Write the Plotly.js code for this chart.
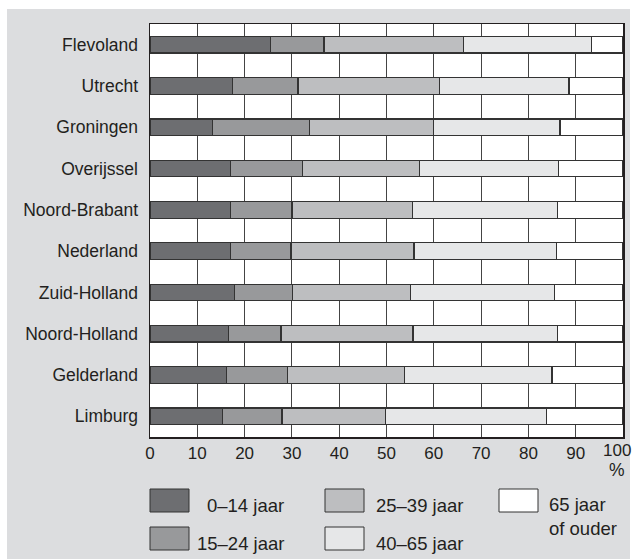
<!DOCTYPE html>
<html>
<head>
<meta charset="utf-8">
<script src="https://cdn.plot.ly/plotly-3.0.1.min.js"></script>
<style>html,body{margin:0;padding:0;background:#fff;}#chart{width:633px;height:559px;}</style>
</head>
<body>
<div id="chart"></div>
<script>
// ---- data ----
const regions = ['Flevoland','Utrecht','Groningen','Overijssel','Noord-Brabant','Nederland','Zuid-Holland','Noord-Holland','Gelderland','Limburg'];
const age0_14  = [25.5, 17.4, 13.2, 17.0, 17.1, 17.1, 17.8, 16.6, 16.2, 15.4];
const age15_24 = [11.3, 13.9, 20.5, 15.3, 12.9, 12.7, 12.3, 11.1, 12.9, 12.5];
const age25_39 = [29.4, 29.9, 26.3, 24.6, 25.5, 26.0, 24.9, 27.9, 24.7, 21.9];
const age40_65 = [27.1, 27.4, 26.7, 29.5, 30.7, 30.2, 30.5, 30.6, 31.2, 34.0];
const age65up  = [ 6.7, 11.4, 13.3, 13.6, 13.8, 14.0, 14.5, 13.8, 15.0, 16.2];
const seriesNames = ['0–14 jaar','15–24 jaar','25–39 jaar','40–65 jaar','65 jaar<br>of ouder'];
const xTickVals = [0,10,20,30,40,50,60,70,80,90,100];
const xTickText = ['0','10','20','30','40','50','60','70','80','90','100'];
const unitLabel = '%';

// ---- styling ----
const colors = ['#6d6e71','#98999b','#bdbec0','#e6e7e8','#ffffff'];
const ink = '#231f20';
const gray = '#dcdddf';
const FONT = 'Liberation Sans, Arial, sans-serif';
const W = 633, H = 559;
const M = {l:150, r:10, t:24, b:122};
const PW = W - M.l - M.r, PH = H - M.t - M.b;
const px = x => (x - M.l) / PW;
const py = y => (H - M.b - y) / PH;

const series = [age0_14, age15_24, age25_39, age40_65, age65up];
const traces = series.map((vals, i) => ({
  type: 'bar', orientation: 'h', y: regions, x: vals, name: seriesNames[i],
  width: 0.4,
  marker: {color: colors[i], line: {color: '#333333', width: 1.2}},
  hoverinfo: 'x+y', showlegend: false
}));

// ---- custom legend (column-major, 3 columns) ----
const legendSlots = [
  {sx: 150, sy: 489, tx: 286, ty: 505, anchor: 'right'},
  {sx: 150, sy: 527, tx: 286, ty: 543, anchor: 'right'},
  {sx: 325, sy: 489, tx: 374, ty: 505, anchor: 'left'},
  {sx: 325, sy: 527, tx: 374, ty: 543, anchor: 'left'},
  {sx: 499, sy: 489, tx: 547, ty: 516, anchor: 'left'}
];
const shapes = [
  {type:'rect', xref:'paper', yref:'paper', x0:px(0), x1:px(W), y0:py(0), y1:py(9), fillcolor:'#fff', line:{width:0}, layer:'below'},
  {type:'rect', xref:'paper', yref:'paper', x0:px(0), x1:px(7), y0:py(0), y1:py(H), fillcolor:'#fff', line:{width:0}, layer:'below'},
  {type:'rect', xref:'paper', yref:'paper', x0:px(630), x1:px(W), y0:py(0), y1:py(H), fillcolor:'#fff', line:{width:0}, layer:'below'}
];
const annotations = [];
seriesNames.forEach((name, i) => {
  const s = legendSlots[i];
  shapes.push({type:'rect', xref:'paper', yref:'paper', x0:px(s.sx), x1:px(s.sx+39), y0:py(s.sy), y1:py(s.sy+23),
    fillcolor: colors[i], line:{color:'#333333', width:1}});
  annotations.push({xref:'paper', yref:'paper', x:px(s.tx), y:py(s.ty), text:name, showarrow:false,
    xanchor:s.anchor, yanchor:'middle', align:'left', font:{family:FONT, size:18.5, color:ink}});
});
// last tick label ("100") sits slightly inside the right edge in the reference
const lastIdx = xTickVals.length - 1;
annotations.push({xref:'x', yref:'paper', x:xTickVals[lastIdx], y:py(451), text:xTickText[lastIdx], showarrow:false,
  xanchor:'center', yanchor:'middle', xshift:-6, font:{family:FONT, size:17, color:ink}});
annotations.push({xref:'paper', yref:'paper', x:1, y:py(470), text:unitLabel, showarrow:false,
  xanchor:'right', yanchor:'middle', xshift:4, font:{family:FONT, size:17.5, color:ink}});

const layout = {
  width: W, height: H,
  margin: M,
  paper_bgcolor: gray, plot_bgcolor: '#ffffff',
  barmode: 'stack',
  font: {family: FONT, size: 17, color: ink},
  xaxis: {range: [0, 100], tickvals: xTickVals,
    ticktext: xTickText.map((t, i) => i === lastIdx ? '' : t),
    showgrid: true, gridcolor: '#444444', gridwidth: 1, zeroline: false,
    showline: true, mirror: true, linecolor: ink, linewidth: 1.5, ticks: '', fixedrange: true,
    tickfont: {family: FONT, size: 17, color: ink}},
  yaxis: {type: 'category', autorange: 'reversed', showgrid: false, zeroline: false,
    showline: true, mirror: true, linecolor: ink, linewidth: 1.5, ticks: '', ticklabelstandoff: 7,
    tickfont: {family: FONT, size: 17.5, color: ink}, fixedrange: true},
  shapes: shapes,
  annotations: annotations,
  showlegend: false
};

Plotly.newPlot('chart', traces, layout, {displayModeBar: false, staticPlot: true});
</script>
</body>
</html>
